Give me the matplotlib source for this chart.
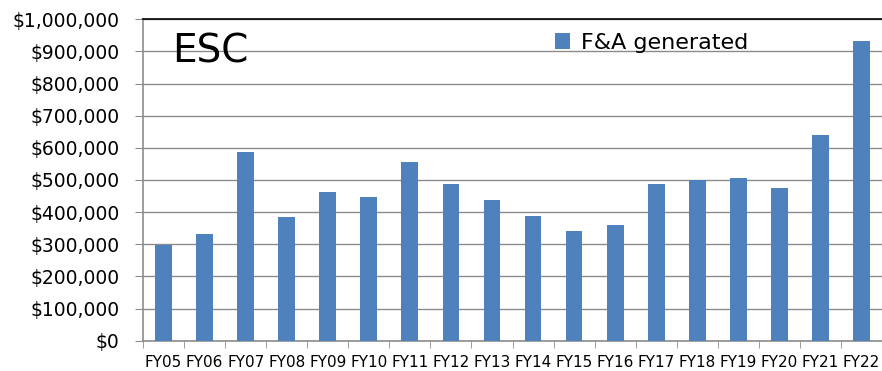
import numpy as np
import matplotlib.pyplot as plt
from matplotlib.ticker import FuncFormatter

years = ['FY05', 'FY06', 'FY07', 'FY08', 'FY09', 'FY10', 'FY11', 'FY12', 'FY13',
         'FY14', 'FY15', 'FY16', 'FY17', 'FY18', 'FY19', 'FY20', 'FY21', 'FY22']
fa_generated = [298000, 332000, 586000, 384000, 464000, 447000, 555000, 487000, 437000,
                388000, 342000, 359000, 489000, 500000, 505000, 474000, 640000, 934000]

plt.rcParams['font.family'] = ['DejaVu Sans']

fig = plt.figure(figsize=(8.82, 3.71), dpi=100)
ax = fig.add_axes([143 / 882, 1 - 340.7 / 371, 739 / 882, (340.7 - 19.3) / 371])

x = np.arange(len(years))
ax.bar(x, fa_generated, width=0.41, color='#4F81BD', label='F&A generated', zorder=3)

ax.set_xlim(-0.5, len(years) - 0.5)
ax.set_ylim(0, 1000000)
ax.set_yticks(np.arange(0, 1000001, 100000))
ax.yaxis.set_major_formatter(FuncFormatter(lambda v, p: '${:,.0f}'.format(v)))
ax.grid(axis='y', color='#8c8c8c', linewidth=1, zorder=0)

ax.set_xticks(x)
ax.set_xticklabels(years)
ax.set_xticks(np.arange(-0.5, len(years)), minor=True)
ax.tick_params(axis='x', which='major', length=0, pad=10, labelsize=11)
ax.tick_params(axis='x', which='minor', length=5, color='#8c8c8c', direction='out')
ax.tick_params(axis='y', length=6, color='#8c8c8c', labelsize=13.5, pad=11)

for s in ['left', 'bottom']:
    ax.spines[s].set_color('#8c8c8c')
    ax.spines[s].set_linewidth(1.2)
ax.spines['top'].set_color('black')
ax.spines['top'].set_linewidth(1.2)
ax.spines['right'].set_visible(False)

ax.text(0.04, 0.96, 'ESC', transform=ax.transAxes, fontsize=28, va='top', ha='left')
ax.legend(loc='upper left', bbox_to_anchor=(0.53, 1.02), frameon=False, fontsize=16,
          handlelength=0.7, handleheight=0.7, handletextpad=0.5)

fig.savefig('out.png', dpi=100)
